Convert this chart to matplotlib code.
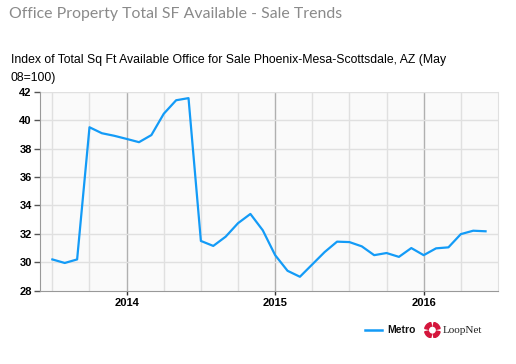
import matplotlib
matplotlib.use('Agg')
from matplotlib import pyplot as plt
from matplotlib.patches import Wedge

# monthly index values, Jul 2013 .. Jun 2016
months = ['2013-07', '2013-08', '2013-09', '2013-10', '2013-11', '2013-12',
          '2014-01', '2014-02', '2014-03', '2014-04', '2014-05', '2014-06',
          '2014-07', '2014-08', '2014-09', '2014-10', '2014-11', '2014-12',
          '2015-01', '2015-02', '2015-03', '2015-04', '2015-05', '2015-06',
          '2015-07', '2015-08', '2015-09', '2015-10', '2015-11', '2015-12',
          '2016-01', '2016-02', '2016-03', '2016-04', '2016-05', '2016-06']
metro = [30.2, 29.95, 30.2, 39.5, 39.08, 38.9,
         38.68, 38.45, 38.95, 40.45, 41.4, 41.55,
         31.5, 31.15, 31.8, 32.75, 33.4, 32.25,
         30.5, 29.4, 28.98, 29.85, 30.72, 31.45,
         31.42, 31.12, 30.5, 30.65, 30.38, 31.0,
         30.5, 30.98, 31.05, 31.98, 32.22, 32.18]
year_labels = ['2014', '2015', '2016']
yticks = [28, 30, 32, 34, 36, 38, 40, 42]

fig = plt.figure(figsize=(5.16, 3.64), dpi=100)
fig.patch.set_facecolor('white')

fig.text(0.017, 0.962, 'Office Property Total SF Available - Sale Trends',
         fontsize=11.4, color='#8a8a8a', family='Lato', va='center')
fig.text(0.021, 0.835, 'Index of Total Sq Ft Available Office for Sale Phoenix-Mesa-Scottsdale, AZ (May',
         fontsize=8.8, color='black', family='Liberation Sans', va='center')
fig.text(0.021, 0.785, '08=100)',
         fontsize=8.8, color='black', family='Liberation Sans', va='center')

ax = fig.add_axes([0.0775, 0.2014, 0.8875, 0.5466])
ax.set_facecolor('#fafafa')

x = list(range(len(metro)))
ax.set_xlim(-1, 36)
ax.set_ylim(28, 42)

# grid lines
for q in range(0, 36, 3):
    if q in (6, 18, 30):
        ax.axvline(q, color='#b0b0b0', lw=1, zorder=1)
    else:
        ax.axvline(q, color='#e0e0e0', lw=1, zorder=1)
for yv in yticks[1:]:
    ax.axhline(yv, color='#e0e0e0', lw=1, zorder=1)

ax.plot(x, metro, color='#139bf7', lw=1.6, zorder=3, solid_joinstyle='round')

ax.set_xticks([6, 18, 30])
ax.set_xticklabels(year_labels)
ax.set_yticks(yticks)
ax.tick_params(axis='x', length=3, width=1, color='#333333', pad=2, labelsize=8)
ax.tick_params(axis='y', length=4, width=1, color='#555555', pad=2, labelsize=8)
for lbl in ax.get_xticklabels() + ax.get_yticklabels():
    lbl.set_fontweight('bold')
    lbl.set_family('Liberation Sans')

for s in ['left', 'bottom']:
    ax.spines[s].set_color('#999999')
ax.spines['right'].set_color('#e0e0e0')
ax.spines['top'].set_visible(False)

# legend and logo
fig.add_artist(plt.Line2D([0.707, 0.741], [0.093, 0.093], color='#139bf7', lw=1.8))
fig.text(0.75, 0.093, 'Metro', fontsize=7.5, fontweight='bold',
         family='Liberation Sans', va='center', color='#111111')
lax = fig.add_axes([0.822, 0.070, 0.032, 0.046])
lax.set_xlim(-1, 1)
lax.set_ylim(-1, 1)
lax.set_aspect('equal')
lax.axis('off')
for a in range(0, 360, 90):
    lax.add_patch(Wedge((0, 0), 0.95, a + 12, a + 78, width=0.45, color='#d4163c'))
fig.text(0.858, 0.093, 'LoopNet', fontsize=8, color='#222222', va='center',
         family='Liberation Serif')

fig.savefig('out.png', dpi=100)
